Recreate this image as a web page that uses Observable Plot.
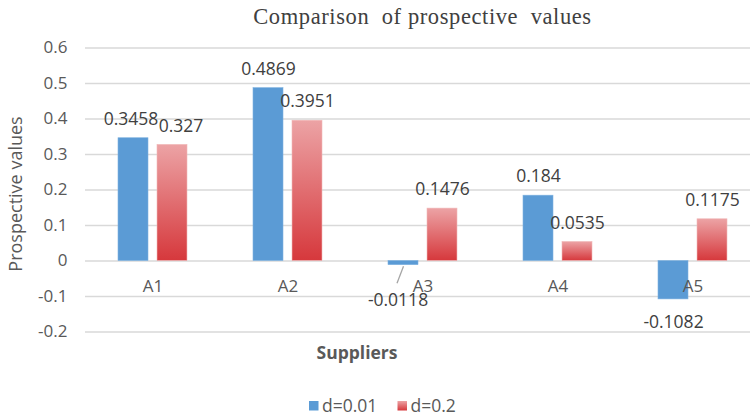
<!DOCTYPE html>
<html>
<head>
<meta charset="utf-8">
<script src="https://cdn.jsdelivr.net/npm/d3@7"></script>
<script src="https://cdn.jsdelivr.net/npm/@observablehq/plot@0.6"></script>
<style>
  html, body { margin: 0; padding: 0; background: #fff; }
  #chart { width: 750px; height: 415px; }
</style>
</head>
<body>
<div id="chart"></div>
<script>
const categories = ["A1", "A2", "A3", "A4", "A5"];
const seriesNames = ["d=0.01", "d=0.2"];
const valuesD001 = [0.3458, 0.4869, -0.0118, 0.184, -0.1082];
const valuesD02 = [0.327, 0.3951, 0.1476, 0.0535, 0.1175];
const yTicks = [-0.2, -0.1, 0, 0.1, 0.2, 0.3, 0.4, 0.5, 0.6];
const yTickLabels = ["-0.2", "-0.1", "0", "0.1", "0.2", "0.3", "0.4", "0.5", "0.6"];
const titleText = "Comparison  of prospective  values";
const yTitle = "Prospective values";
const xTitle = "Suppliers";

const blue = categories.map((c, i) => ({cat: c, v: valuesD001[i], label: String(valuesD001[i])}));
const red = categories.map((c, i) => ({cat: c, v: valuesD02[i], label: String(valuesD02[i])}));

const labelColor = "#404040";
const axisColor = "#595959";
const font = "'Open Sans', sans-serif";
const lfs = 17.5;

const bluePos = blue.filter(d => d.v >= 0);
const redPos = red.filter(d => d.v >= 0);
const blueNeg = blue.filter(d => d.v < 0);

const svg = Plot.plot({
  width: 750,
  height: 415,
  marginTop: 47.5,
  marginBottom: 83.5,
  marginLeft: 85,
  marginRight: 0,
  style: {fontFamily: font, background: "#fff", overflow: "hidden"},
  x: {type: "band", domain: categories, range: [85, 760], padding: 0, axis: null},
  y: {domain: [-0.2, 0.6]},
  marks: [
    Plot.gridY(yTicks, {stroke: "#d9d9d9", strokeOpacity: 1, strokeWidth: 1.6}),
    Plot.axisY({
      ticks: yTicks,
      tickFormat: d => yTickLabels[yTicks.indexOf(d)],
      tickSize: 0,
      tickPadding: 18,
      fontSize: 17,
      fill: axisColor,
      label: null
    }),
    Plot.barY(blue, {x: "cat", y: "v", fill: "#5B9BD5", stroke: "#7fb2e0", strokeWidth: 0.6, insetLeft: 33, insetRight: 72}),
    Plot.barY(red, {x: "cat", y: "v", fill: "url(#redGrad)", stroke: "#f0b8b8", strokeWidth: 0.6, insetLeft: 72, insetRight: 33}),
    // category labels
    Plot.text(categories, {x: d => d, y: () => 0, dy: 26, fontSize: 17, fill: axisColor, lineAnchor: "middle"}),
    // positive labels, blue
    Plot.text(bluePos.filter(d => d.cat !== "A1"), {x: "cat", y: "v", text: "label", dx: -19.5, dy: -19, fontSize: lfs, fill: labelColor, lineAnchor: "middle"}),
    Plot.text(bluePos.filter(d => d.cat === "A1"), {x: "cat", y: "v", text: "label", dx: -22, dy: -19, fontSize: lfs, fill: labelColor, lineAnchor: "middle"}),
    // positive labels, red
    Plot.text(redPos.filter(d => d.cat !== "A1"), {x: "cat", y: "v", text: "label", dx: 19.5, dy: -19, fontSize: lfs, fill: labelColor, lineAnchor: "middle"}),
    Plot.text(redPos.filter(d => d.cat === "A1"), {x: "cat", y: "v", text: "label", dx: 28, dy: -19, fontSize: lfs, fill: labelColor, lineAnchor: "middle"}),
    // negative labels, blue
    Plot.text(blueNeg.filter(d => d.cat !== "A3"), {x: "cat", y: "v", text: "label", dx: -19.5, dy: 23, fontSize: lfs, fill: labelColor, lineAnchor: "middle"}),
    Plot.text(blueNeg.filter(d => d.cat === "A3"), {x: "cat", y: "v", text: "label", dx: -25, dy: 35, fontSize: lfs, fill: labelColor, lineAnchor: "middle"}),
    // leader line for A3
    Plot.link(blueNeg.filter(d => d.cat === "A3"), {
      x1: "cat", x2: "cat", y1: "v", y2: "v",
      stroke: "#a6a6a6", strokeWidth: 1.3
    })
  ]
});

// gradient definition
const sel = d3.select(svg);
const defs = sel.insert("defs", ":first-child");
const grad = defs.append("linearGradient").attr("id", "redGrad").attr("x1", 0).attr("y1", 0).attr("x2", 0).attr("y2", 1);
grad.append("stop").attr("offset", "0%").attr("stop-color", "#eca3a5");
grad.append("stop").attr("offset", "100%").attr("stop-color", "#d6383c");

// Adjust the A3 leader line: from the bar bottom toward the label
sel.selectAll("g[aria-label='link'] path").each(function() {
  const d = this.getAttribute("d");
  const m = d.match(/M([\d.\-]+),([\d.\-]+)/);
  if (m) {
    const x = +m[1] - 19.5, y = +m[2];
    this.setAttribute("d", `M${x},${y + 1}L${x - 6.5},${y + 18}`);
  }
});

// titles and legend
sel.append("text")
  .attr("x", 422.5).attr("y", 24)
  .attr("text-anchor", "middle")
  .attr("xml:space", "preserve")
  .style("white-space", "pre")
  .attr("font-family", "'Liberation Serif', 'Times New Roman', serif")
  .attr("font-size", 22.5)
  .attr("letter-spacing", 0.6)
  .attr("fill", labelColor)
  .text(titleText);

sel.append("text")
  .attr("transform", "translate(22,194) rotate(-90)")
  .attr("text-anchor", "middle")
  .attr("font-family", font)
  .attr("font-size", 18)
  .attr("fill", axisColor)
  .text(yTitle);

sel.append("text")
  .attr("x", 357).attr("y", 359)
  .attr("text-anchor", "middle")
  .attr("font-family", font)
  .attr("font-weight", "bold")
  .attr("font-size", 17.5)
  .attr("fill", axisColor)
  .text(xTitle);

const legendItems = [
  {name: seriesNames[0], fill: "#5B9BD5", x: 309},
  {name: seriesNames[1], fill: "url(#redGrad)", x: 397.5}
];
legendItems.forEach(it => {
  sel.append("rect").attr("x", it.x).attr("y", 401).attr("width", 9.5).attr("height", 9.5).attr("fill", it.fill);
  sel.append("text").attr("x", it.x + 13).attr("y", 411.5)
    .attr("text-anchor", "start")
    .attr("font-family", font).attr("font-size", 17.5).attr("fill", axisColor)
    .text(it.name);
});

document.getElementById("chart").appendChild(svg);
</script>
</body>
</html>
